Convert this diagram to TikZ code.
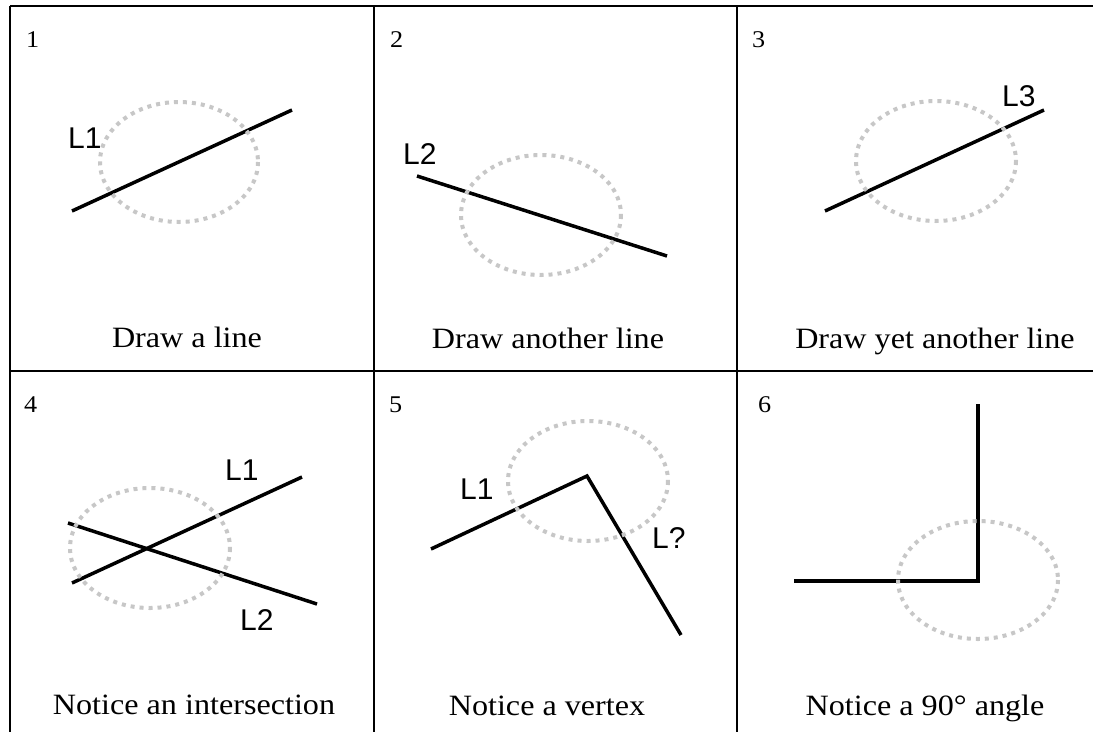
\documentclass[tikz,border=0pt]{standalone}
\usepackage{graphicx}
\usepackage{fontspec}
\setmainfont{Liberation Serif}
\newfontfamily\labfont{Liberation Sans}
\newcommand\widetext[1]{\scalebox{1.09}[1]{#1}}
\begin{document}
\begin{tikzpicture}[x=1pt,y=-1pt,
  frame/.style={line width=2.5pt,black},
  stroke/.style={line width=3.5pt,black},
  halo/.style={draw=black!22,line width=4pt,dash pattern=on 4pt off 5pt},
  numtext/.style={anchor=base west,inner sep=0pt,font=\fontsize{24}{24}\selectfont},
  captext/.style={anchor=base,inner sep=0pt,font=\fontsize{29.5}{29.5}\selectfont},
  labtext/.style={anchor=base west,inner sep=0pt,font=\labfont\fontsize{30}{30}\selectfont}]
\useasboundingbox (0,0) rectangle (1093,732);
\fill[white] (0,0) rectangle (1093,732);
% grid
\draw[frame] (10,6) -- (1093,6);
\draw[frame] (10,371) -- (1093,371);
\draw[frame] (10,6) -- (10,732);
\draw[frame] (374,6) -- (374,732);
\draw[frame] (737,6) -- (737,732);
% numbers
\node[numtext] (n1) at (26,47) {\widetext{1}};
\node[numtext] (n2) at (390,47) {\widetext{2}};
\node[numtext] (n3) at (752,47) {\widetext{3}};
\node[numtext] (n4) at (24,412) {\widetext{4}};
\node[numtext] (n5) at (389,412) {\widetext{5}};
\node[numtext] (n6) at (758,412) {\widetext{6}};
% captions
\node[captext] (c1) at (187,347) {\widetext{Draw a line}};
\node[captext] (c2) at (548,348) {\widetext{Draw another line}};
\node[captext] (c3) at (935,348) {\widetext{Draw yet another line}};
\node[captext] (c4) at (194,714) {\widetext{Notice an intersection}};
\node[captext] (c5) at (547,715) {\widetext{Notice a vertex}};
\node[captext] (c6) at (925,715) {\widetext{Notice a 90° angle}};
% panel 1
\draw[stroke] (72,211) -- (292,110);
\draw[halo] (179,162) ellipse [x radius=79,y radius=60];
\node[labtext] (l1a) at (68,148) {L1};
% panel 2
\draw[stroke] (417,176) -- (667,256);
\draw[halo] (541,215) ellipse [x radius=80,y radius=60];
\node[labtext] (l2a) at (403,164) {L2};
% panel 3
\draw[stroke] (825,211) -- (1044,110);
\draw[halo] (936,161) ellipse [x radius=80,y radius=60];
\node[labtext] (l3a) at (1002,106) {L3};
% panel 4
\draw[stroke] (72,583) -- (302,477);
\draw[stroke] (68,523) -- (317,604);
\draw[halo] (150,548) ellipse [x radius=80,y radius=60];
\node[labtext] (l1b) at (225,480) {L1};
\node[labtext] (l2b) at (240,630) {L2};
% panel 5
\draw[stroke,line join=miter] (431,549) -- (587,476) -- (681,635);
\draw[halo] (588,481) ellipse [x radius=80,y radius=60];
\node[labtext] (l1c) at (460,499) {L1};
\node[labtext] (lq) at (652,548) {L?};
% panel 6
\draw[stroke,line join=miter] (794,581) -- (978,581) -- (978,404);
\draw[halo] (978,580) ellipse [x radius=80,y radius=59];
\end{tikzpicture}
\end{document}
